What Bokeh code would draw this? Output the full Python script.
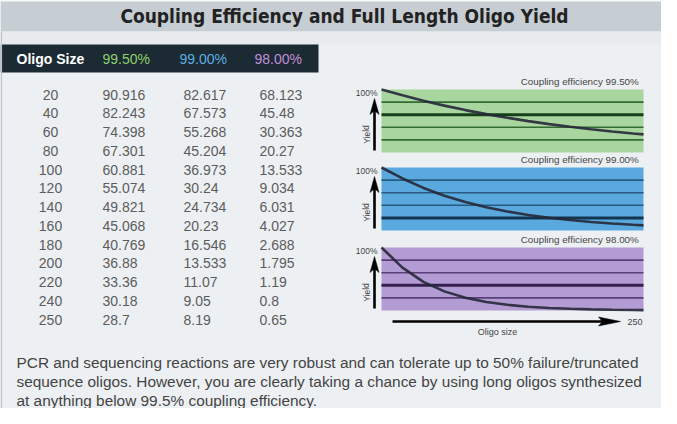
from bokeh.plotting import figure
from bokeh.models import Range1d, ColumnDataSource
from bokeh.core.properties import value
from bokeh.embed import file_html
from bokeh.resources import INLINE

# ---------------- data ----------------
oligo_size = [20, 40, 60, 80, 100, 120, 140, 160, 180, 200, 220, 240, 250]
yield_99_5 = [90.916, 82.243, 74.398, 67.301, 60.881, 55.074, 49.821, 45.068, 40.769, 36.88, 33.36, 30.18, 28.7]
yield_99_0 = [82.617, 67.573, 55.268, 45.204, 36.973, 30.24, 24.734, 20.23, 16.546, 13.533, 11.07, 9.05, 8.19]
yield_98_0 = [68.123, 45.48, 30.363, 20.27, 13.533, 9.034, 6.031, 4.027, 2.688, 1.795, 1.19, 0.8, 0.65]
efficiency_labels = ["99.50%", "99.00%", "98.00%"]
header_first = "Oligo Size"
title_text = "Coupling Efficiency and Full Length Oligo Yield"
note_lines = [
    "PCR and sequencing reactions are very robust and can tolerate up to 50% failure/truncated",
    "sequence oligos. However, you are clearly taking a chance by using long oligos synthesized",
    "at anything below 99.5% coupling efficiency.",
]
grid_levels = [20, 40, 60, 80]
emphasized_level = [60, 20, 40]
start_size, start_yield = 0, 100
size_max, yield_max = 250, 100

series = [yield_99_5, yield_99_0, yield_98_0]

# ---------------- styles ----------------
W, H = 661, 408
FONT = "Liberation Sans"
header_colors = ["#8fd06a", "#5faee0", "#c08fd8"]
panel_fill = ["#a9d69f", "#5aa9de", "#b39bd3"]
panel_line = ["#336b33", "#285a80", "#5a3f78"]
panel_bold = ["#173f19", "#123552", "#34204f"]
curve_color = "#262838"
text_gray = "#5c5c5c"

p = figure(width=W, height=H, x_range=Range1d(0, W), y_range=Range1d(H, 0),
           output_backend="svg", toolbar_location=None,
           x_axis_location=None, y_axis_location=None,
           min_border=0, outline_line_color=None,
           background_fill_color="#edf0f3", border_fill_color="white")
p.grid.visible = False

# background blocks (layout)
p.quad(left=[0], right=[W], top=[0], bottom=[1], fill_color="white", line_color=None)
p.quad(left=[0], right=[W], top=[1], bottom=[31], fill_color="#c6cdd3", line_color=None)
p.quad(left=[0], right=[W], top=[31], bottom=[44], fill_color="#e7ebee", line_color=None)
p.quad(left=[0], right=[318], top=[44], bottom=[72], fill_color="#1b2a33", line_color=None)
p.quad(left=[0], right=[1.6], top=[31], bottom=[H], fill_color="#bcc3c9", line_color=None)

# title
p.text(x=[344], y=[15.5], text=[title_text], text_align="center", text_baseline="middle",
       text_font=value("DejaVu Sans Condensed"), text_font_style="bold",
       text_font_size=value("19px"), text_color="#222222")

# table header
p.text(x=[16], y=[58], text=[header_first], text_align="left", text_baseline="middle",
       text_font=value(FONT), text_font_style="bold", text_font_size=value("14px"),
       text_color="white")
p.text(x=[102, 179, 254], y=[58, 58, 58], text=efficiency_labels, text_align="left",
       text_baseline="middle", text_font=value(FONT), text_font_size=value("14px"),
       text_color=header_colors)

# table rows through a row-index range
row0, pitch = 94, 18.75
p.extra_y_ranges["rows"] = Range1d(start=(H - row0) / pitch, end=-row0 / pitch)
rows = list(range(len(oligo_size)))
tsrc = ColumnDataSource(dict(
    row=rows,
    size=[str(s) for s in oligo_size],
    a=[str(v) for v in yield_99_5],
    b=[str(v) for v in yield_99_0],
    c=[str(v) for v in yield_98_0],
))
common = dict(y="row", y_range_name="rows", text_baseline="middle", text_font=value(FONT),
              text_font_size=value("14px"), text_color=text_gray, source=tsrc)
p.text(x=50, text="size", text_align="center", **common)
p.text(x=102, text="a", text_align="left", **common)
p.text(x=183, text="b", text_align="left", **common)
p.text(x=259, text="c", text_align="left", **common)

# mini charts
pl, pr = 381, 643
sx = (pr - pl) / size_max
p.extra_x_ranges["mini"] = Range1d(start=-pl / sx, end=(W - pl) / sx)
panel_tops = [89, 167, 247]
ph = 63
sy = ph / yield_max
for i, (top, ys) in enumerate(zip(panel_tops, series)):
    bot = top + ph
    rn = f"panel{i}"
    p.extra_y_ranges[rn] = Range1d(start=(bot - H) / sy, end=bot / sy)
    p.quad(left=[0], right=[size_max], bottom=[0], top=[yield_max], fill_color=panel_fill[i],
           line_color=None, x_range_name="mini", y_range_name=rn)
    for lv in grid_levels:
        bold = lv == emphasized_level[i]
        p.segment(x0=[0], x1=[size_max], y0=[lv], y1=[lv],
                  line_color=panel_bold[i] if bold else panel_line[i],
                  line_width=3 if bold else 1.6, x_range_name="mini", y_range_name=rn)
    p.line(x=[start_size] + oligo_size, y=[start_yield] + ys, line_color=curve_color,
           line_width=2.6, line_alpha=0.9, x_range_name="mini", y_range_name=rn)
    # labels
    p.text(x=[641], y=[top - 8], text=[f"Coupling efficiency  {efficiency_labels[i]}"],
           text_align="right", text_baseline="middle", text_font=value(FONT),
           text_font_size=value("9.8px"), text_color="#444444")
    p.text(x=[377], y=[top + 3], text=["100%"], text_align="right", text_baseline="middle",
           text_font=value(FONT), text_font_size=value("8.5px"), text_color="#444444")
    p.text(x=[366], y=[top + 45], text=["Yield"], angle=1.5708, text_align="center",
           text_baseline="middle", text_font=value(FONT), text_font_size=value("8.5px"),
           text_color="#444444")
    # up arrow
    p.segment(x0=[374], x1=[374], y0=[top + 20], y1=[top + 61], line_color="black", line_width=2.6)
    p.patch(x=[374, 369.5, 374, 378.5], y=[top + 9, top + 25, top + 21, top + 25],
            fill_color="black", line_color="black", line_width=0.5)

# oligo size arrow
p.segment(x0=[392], x1=[602], y0=[321], y1=[321], line_color="black", line_width=2.6)
p.patch(x=[620, 598, 602, 598], y=[321, 316.5, 321, 325.5], fill_color="black",
        line_color="black", line_width=0.5)
p.text(x=[627], y=[321], text=[str(size_max)], text_align="left", text_baseline="middle",
       text_font=value(FONT), text_font_size=value("9px"), text_color="#444444")
p.text(x=[497], y=[331], text=["Oligo size"], text_align="center", text_baseline="middle",
       text_font=value(FONT), text_font_size=value("9px"), text_color="#444444")

# note paragraph
p.text(x=[16, 16, 16], y=[362, 381, 400], text=note_lines, text_align="left",
       text_baseline="middle", text_font=value(FONT), text_font_size=value("15.4px"),
       text_color="#444444")

open("out.html", "w").write(file_html(p, INLINE))
